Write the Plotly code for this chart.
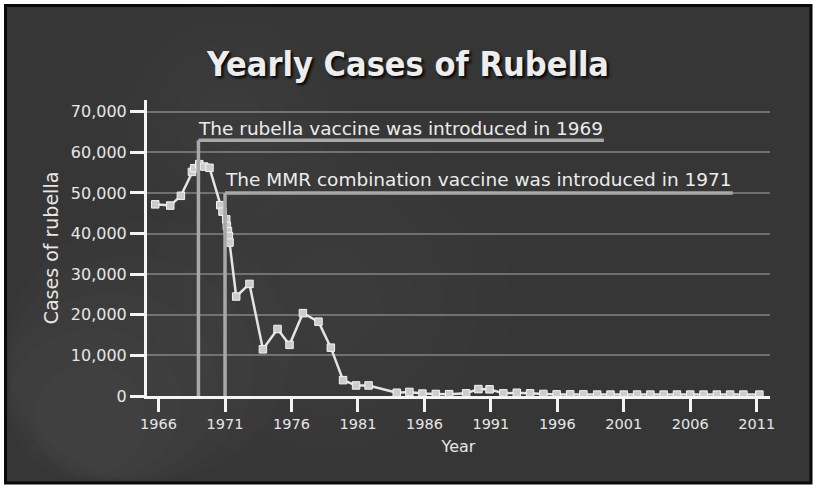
import plotly.graph_objects as go

# ---- data ----
years = [1965.75, 1966.88, 1967.68, 1968.51, 1968.68, 1969.06, 1969.44, 1969.83,
         1970.64, 1970.81, 1971.09, 1971.14, 1971.22, 1971.29, 1971.34, 1971.84,
         1972.84, 1973.85, 1974.95, 1975.85, 1976.86, 1978.03, 1978.96, 1979.88,
         1980.86, 1981.80, 1983.92, 1984.87, 1985.85, 1986.86, 1987.86, 1989.14,
         1990.06, 1990.90, 1991.94, 1992.95, 1993.95, 1994.95, 1995.95, 1996.97,
         1997.96, 1999.0, 2000.0, 2001.0, 2002.0, 2003.0, 2004.0, 2005.0, 2006.0,
         2007.0, 2008.0, 2009.0, 2010.0, 2011.2]
cases = [47200, 46900, 49300, 55200, 56100, 57100, 56500, 56200,
         47000, 45400, 43500, 41900, 40600, 39400, 37800, 24500,
         27600, 11500, 16500, 12600, 20400, 18300, 11900, 3900,
         2600, 2600, 800, 1000, 600, 500, 450, 650,
         1700, 1650, 650, 800, 650, 500, 400, 400,
         400, 350, 350, 350, 350, 350, 350, 350, 350,
         350, 350, 350, 350, 350]

x_tick_vals = [1966, 1971, 1976, 1981, 1986, 1991, 1996, 2001, 2006, 2011]
y_tick_vals = [0, 10000, 20000, 30000, 40000, 50000, 60000, 70000]

event_years = [1969, 1971]
event_levels = [63000, 50000]
event_line_ends = [1999.5, 2009.2]
event_text_levels = [66000, 53200]
event_labels = ["The rubella vaccine was introduced in 1969",
                "The MMR combination vaccine was introduced in 1971"]

title_text = "Yearly Cases of Rubella"
x_title = "Year"
y_title = "Cases of rubella"

# ---- figure ----
W, H = 816, 488
L, R, T, B = 147, 46, 100, 92
pw, ph = W - L - R, H - T - B

def px_to_paper_x(px):
    return (px - L) / pw

def px_to_paper_y(py):
    return (H - B - py) / ph

fig = go.Figure()

fig.add_trace(go.Scatter(
    x=years, y=cases, mode="lines+markers",
    line=dict(color="#e4e4e4", width=2.5),
    marker=dict(symbol="square", size=7.5, color="#cccccc",
                line=dict(color="#f4f4f4", width=1)),
    showlegend=False, hoverinfo="skip", cliponaxis=False,
))

shapes = []
# background card with black frame
shapes.append(dict(type="rect", xref="paper", yref="paper", layer="below",
                   x0=px_to_paper_x(5.5), x1=px_to_paper_x(811),
                   y0=px_to_paper_y(483), y1=px_to_paper_y(5.5),
                   fillcolor="#363636", line=dict(color="#0a0a0a", width=3)))
# soft lighter haze (stacked translucent ellipses)
for cx, cy, r0, a in [(90, 420, 200, 0.03), (330, 300, 180, 0.02), (230, 120, 120, 0.02)]:
    for k in range(5):
        rr = r0 * (1 - k * 0.18)
        shapes.append(dict(type="circle", xref="paper", yref="paper", layer="below",
                           x0=px_to_paper_x(max(cx - rr, 7)), x1=px_to_paper_x(cx + rr),
                           y0=px_to_paper_y(min(cy + rr, 481)), y1=px_to_paper_y(cy - rr),
                           fillcolor="rgba(140,140,140,%.3f)" % a, line=dict(width=0)))

for ex, ey, eend in zip(event_years, event_levels, event_line_ends):
    shapes.append(dict(type="line", xref="x", yref="y", x0=ex, x1=ex, y0=0, y1=ey,
                       line=dict(color="#a8a8a8", width=3.5), layer="above"))
    shapes.append(dict(type="line", xref="x", yref="y", x0=ex, x1=eend, y0=ey, y1=ey,
                       line=dict(color="#a8a8a8", width=3.5), layer="above"))

annotations = []
for ex, ty, lab in zip(event_years, event_text_levels, event_labels):
    annotations.append(dict(x=ex, y=ty, xref="x", yref="y", text=lab,
                            showarrow=False, xanchor="left", yanchor="middle",
                            xshift=-2,
                            font=dict(family="DejaVu Sans", size=18.5, color="#ececec")))

fig.update_layout(
    width=W, height=H,
    margin=dict(l=L, r=R, t=T, b=B),
    paper_bgcolor="white",
    plot_bgcolor="rgba(0,0,0,0)",
    shapes=shapes,
    annotations=annotations,
    title=dict(text=title_text, x=0.5, xref="container", xanchor="center",
               y=1 - 64 / H, yref="container", yanchor="middle",
               font=dict(family="DejaVu Sans Condensed, DejaVu Sans",
                         size=34, color="#ededed", weight="bold",
                         shadow="2px 2px 3px #000")),
    xaxis=dict(range=[1965.13, 2012.0], tickmode="array", tickvals=x_tick_vals,
               showgrid=False, zeroline=False, showline=True, linecolor="#f4f4f4",
               linewidth=3, ticks="outside", ticklen=13, tickwidth=2.5,
               tickcolor="#f4f4f4",
               tickfont=dict(family="DejaVu Sans", size=14.5, color="#e6e6e6"),
               title=dict(text=x_title, standoff=10,
                          font=dict(family="DejaVu Sans", size=16, color="#e6e6e6"))),
    yaxis=dict(range=[0, 72900], tickmode="array", tickvals=y_tick_vals,
               tickformat=",d", showgrid=True, gridcolor="rgba(190,190,190,0.42)",
               gridwidth=1.5, zeroline=False, showline=True, linecolor="#f4f4f4",
               linewidth=3, ticks="outside", ticklen=14, tickwidth=2.5,
               tickcolor="#f4f4f4",
               tickfont=dict(family="DejaVu Sans", size=16, color="#e6e6e6"),
               title=dict(text=y_title, standoff=8,
                          font=dict(family="DejaVu Sans", size=19, color="#e6e6e6"))),
)

fig.write_html("out.html", config={"displayModeBar": False},
               post_script="document.body.style.margin='0';")
